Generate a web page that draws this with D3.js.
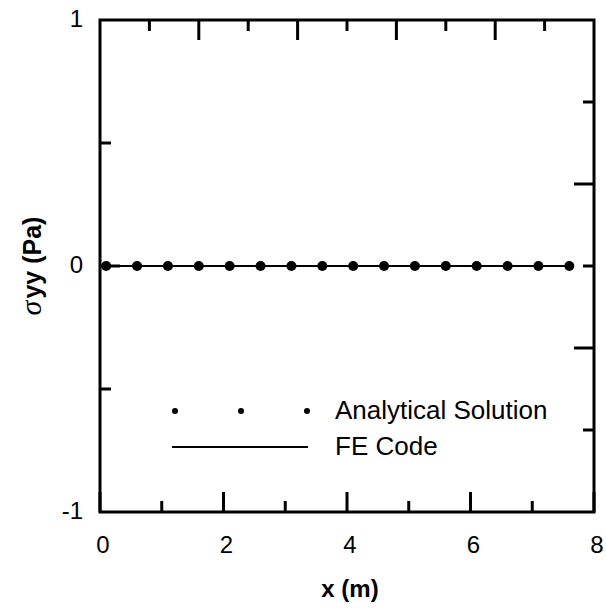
<!DOCTYPE html>
<html>
<head>
<meta charset="utf-8">
<script src="https://cdn.jsdelivr.net/npm/d3@7"></script>
<style>
  html, body { margin: 0; padding: 0; background: #fff; }
  svg { display: block; }
  text { font-family: "Liberation Sans", Arial, sans-serif; fill: #000; }
</style>
</head>
<body>
<svg id="chart" width="606" height="611"></svg>
<script>
// Stress along the line: analytical solution vs finite-element result
const analyticX = [0.1, 0.6, 1.1, 1.6, 2.1, 2.6, 3.1, 3.6, 4.1, 4.6, 5.1, 5.6, 6.1, 6.6, 7.1, 7.6];
const analyticY = [0, 0, 0, 0, 0, 0, 0, 0, 0, 0, 0, 0, 0, 0, 0, 0];
const feX = [0, 1, 2, 3, 4, 5, 6, 7, 7.6];
const feY = [0, 0, 0, 0, 0, 0, 0, 0, 0];

// Axis ticks
const xMajorTicks = [0, 2, 4, 6, 8];
const xMinorTicks = [1, 3, 5, 7];
const yLabelTicks = [-1, 0, 1];
const yMajorTicks = [0];
const yMinorTicks = [-0.5, 0.5];
const topTicks = [1, 2, 3, 4, 5, 6, 7, 8, 9];      // top frame, 10 divisions
const rightTicks = [1, 2, 3, 4, 5];                 // right frame, 6 divisions

const legendLabels = ["Analytical Solution", "FE Code"];

const svg = d3.select("#chart");
const plotL = 100, plotR = 594, plotT = 20, plotB = 512;
const majorLen = 20, minorLen = 11;

const x = d3.scaleLinear().domain([0, 8]).range([plotL, plotR]);
const y = d3.scaleLinear().domain([-1, 1]).range([plotB, plotT]);
const xTop = d3.scaleLinear().domain([0, 10]).range([plotL, plotR]);
const yRight = d3.scaleLinear().domain([0, 6]).range([plotB, plotT]);

const tickStyle = s => s.attr("stroke", "#000").attr("stroke-width", 3);

// Bottom axis ticks (inward)
const g = svg.append("g");
g.selectAll(".xb").data(xMajorTicks.concat(xMinorTicks)).join("line")
  .attr("x1", d => x(d)).attr("x2", d => x(d))
  .attr("y1", plotB).attr("y2", d => plotB - (xMajorTicks.includes(d) ? majorLen : minorLen))
  .call(tickStyle);

// Top frame ticks
g.selectAll(".xt").data(topTicks).join("line")
  .attr("x1", d => xTop(d)).attr("x2", d => xTop(d))
  .attr("y1", plotT).attr("y2", d => plotT + (d % 2 === 0 ? majorLen : minorLen))
  .call(tickStyle);

// Left axis ticks
g.selectAll(".yl").data(yMajorTicks.concat(yMinorTicks)).join("line")
  .attr("y1", d => y(d)).attr("y2", d => y(d))
  .attr("x1", plotL).attr("x2", d => plotL + (yMajorTicks.includes(d) ? majorLen : minorLen))
  .call(tickStyle);

// Right frame ticks
g.selectAll(".yr").data(rightTicks).join("line")
  .attr("y1", d => yRight(d)).attr("y2", d => yRight(d))
  .attr("x1", plotR).attr("x2", d => plotR - (d % 2 === 0 ? majorLen : minorLen))
  .call(tickStyle);

// Frame
svg.append("rect")
  .attr("x", plotL).attr("y", plotT)
  .attr("width", plotR - plotL).attr("height", plotB - plotT)
  .attr("fill", "none").attr("stroke", "#000").attr("stroke-width", 3);

// Tick labels
svg.selectAll(".xl").data(xMajorTicks).join("text")
  .attr("x", d => x(d) + 3).attr("y", 553)
  .attr("text-anchor", "middle").attr("font-size", 24)
  .text(d => d);

svg.selectAll(".ylab").data(yLabelTicks).join("text")
  .attr("x", 83).attr("y", d => y(d) + 7)
  .attr("text-anchor", "end").attr("font-size", 24)
  .text(d => d);

// Axis titles
svg.append("text")
  .attr("x", 350).attr("y", 597)
  .attr("text-anchor", "middle").attr("font-size", 24).attr("font-weight", "bold")
  .text("x (m)");

const yt = svg.append("text")
  .attr("transform", "translate(41,266) rotate(-90)")
  .attr("text-anchor", "middle").attr("font-size", 25);
yt.append("tspan").attr("font-family", "Liberation Serif, serif")
  .attr("font-style", "italic").attr("font-size", 30).text("σ");
yt.append("tspan").attr("font-weight", "bold").attr("dx", 2).text("yy (Pa)");

// FE line
const line = d3.line().x((d, i) => x(feX[i])).y((d, i) => y(feY[i]));
svg.append("path").datum(feY)
  .attr("d", line).attr("fill", "none")
  .attr("stroke", "#000").attr("stroke-width", 2);

// Analytical points
svg.selectAll(".pt").data(analyticX).join("circle")
  .attr("cx", d => x(d)).attr("cy", (d, i) => y(analyticY[i]))
  .attr("r", 5).attr("fill", "#000");

// Legend
const lg = svg.append("g");
const legendDotX = [175, 241, 307];
lg.selectAll("circle").data(legendDotX).join("circle")
  .attr("cx", d => d).attr("cy", 411).attr("r", 3).attr("fill", "#000");
lg.append("line").attr("x1", 172).attr("x2", 308).attr("y1", 447).attr("y2", 447)
  .attr("stroke", "#000").attr("stroke-width", 2);
lg.selectAll("text").data(legendLabels).join("text")
  .attr("x", 335).attr("y", (d, i) => 419 + i * 36)
  .attr("font-size", 26)
  .text(d => d);
</script>
</body>
</html>
